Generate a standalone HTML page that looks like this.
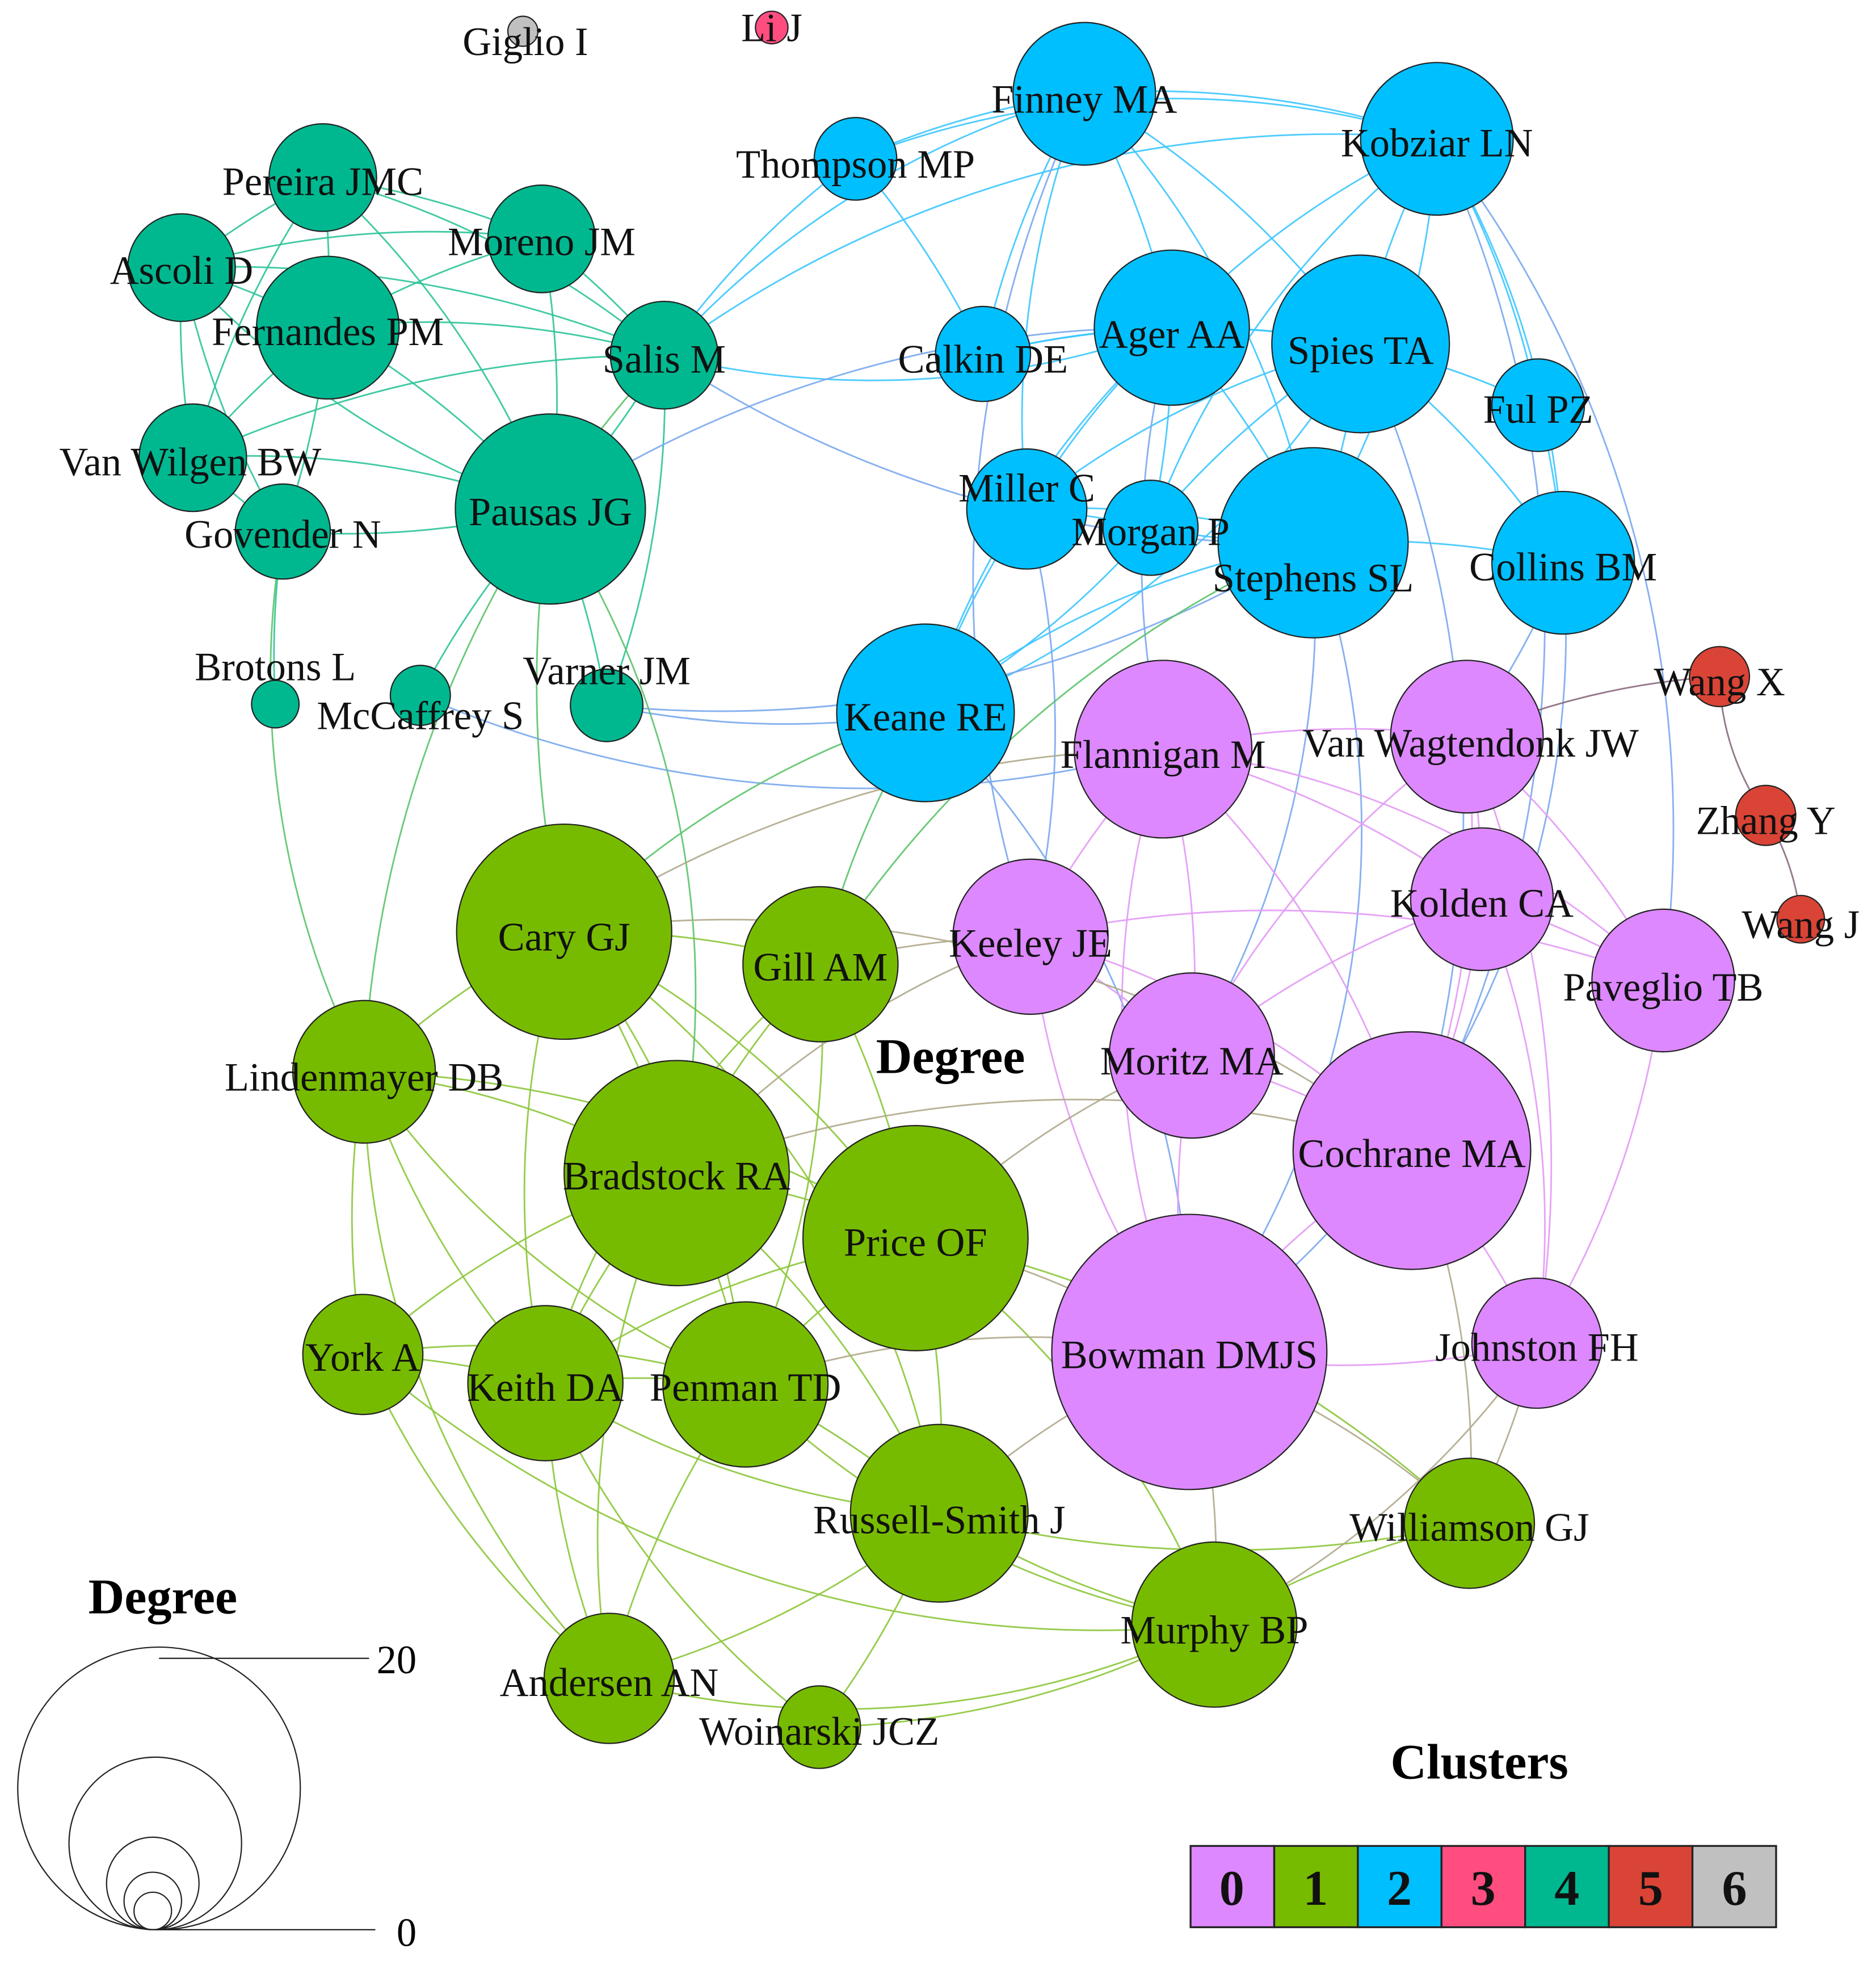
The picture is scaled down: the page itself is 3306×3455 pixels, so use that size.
<!DOCTYPE html>
<html><head><meta charset="utf-8"><style>
html,body{margin:0;padding:0;background:#fff}
svg{display:block}
text{font-family:"Liberation Serif",serif}
</style></head><body>
<svg xmlns="http://www.w3.org/2000/svg" width="3306" height="3455" viewBox="0 0 1500 1568">
<rect width="1500" height="1568" fill="#fff"/>
<g fill="none" stroke-width="1.3" stroke-opacity="0.9">
<g stroke="#2EC49A">
<path d="M258,142 A700,700 0 0 1 433,191"/><path d="M258,142 A700,700 0 0 0 145,214"/><path d="M258,142 A700,700 0 0 1 262,262"/><path d="M258,142 A700,700 0 0 1 531,284"/><path d="M258,142 A700,700 0 0 1 440,407"/><path d="M258,142 A700,700 0 0 0 154,366"/><path d="M145,214 A700,700 0 0 1 262,262"/><path d="M145,214 A700,700 0 0 1 433,191"/><path d="M145,214 A700,700 0 0 0 154,366"/><path d="M145,214 A700,700 0 0 0 226,425"/><path d="M145,214 A700,700 0 0 0 440,407"/><path d="M262,262 A700,700 0 0 1 433,191"/><path d="M262,262 A700,700 0 0 1 531,284"/><path d="M262,262 A700,700 0 0 1 440,407"/><path d="M262,262 A700,700 0 0 0 154,366"/><path d="M262,262 A700,700 0 0 1 226,425"/><path d="M433,191 A700,700 0 0 1 531,284"/><path d="M433,191 A700,700 0 0 1 440,407"/><path d="M154,366 A700,700 0 0 0 226,425"/><path d="M154,366 A700,700 0 0 1 440,407"/><path d="M226,425 A700,700 0 0 0 440,407"/><path d="M440,407 A700,700 0 0 0 531,284"/><path d="M440,407 A700,700 0 0 1 485,564"/><path d="M440,407 A700,700 0 0 0 336,556"/><path d="M485,564 A700,700 0 0 0 531,284"/><path d="M226,425 A700,700 0 0 0 220,563"/><path d="M145,214 A900,900 0 0 1 531,284"/><path d="M154,366 A900,900 0 0 1 531,284"/>
</g>
<g stroke="#3CC6FF">
<path d="M867,75 A700,700 0 0 0 684,127"/><path d="M867,75 A700,700 0 0 1 1149,111"/><path d="M867,75 A700,700 0 0 1 937,262"/><path d="M867,75 A700,700 0 0 1 1088,275"/><path d="M867,75 A700,700 0 0 1 1050,434"/><path d="M867,75 A700,700 0 0 0 786,283"/><path d="M867,75 A700,700 0 0 0 821,407"/><path d="M684,127 A700,700 0 0 1 1149,111"/><path d="M684,127 A700,700 0 0 1 786,283"/><path d="M1149,111 A700,700 0 0 0 937,262"/><path d="M1149,111 A700,700 0 0 0 1088,275"/><path d="M1149,111 A700,700 0 0 1 1050,434"/><path d="M1149,111 A700,700 0 0 1 1230,324"/><path d="M1149,111 A700,700 0 0 1 1250,450"/><path d="M1149,111 A700,700 0 0 0 920,422"/><path d="M786,283 A700,700 0 0 1 937,262"/><path d="M786,283 A700,700 0 0 1 1088,275"/><path d="M937,262 A700,700 0 0 1 1088,275"/><path d="M937,262 A700,700 0 0 1 1050,434"/><path d="M937,262 A700,700 0 0 0 821,407"/><path d="M937,262 A700,700 0 0 1 920,422"/><path d="M937,262 A700,700 0 0 0 740,570"/><path d="M1088,275 A700,700 0 0 1 1050,434"/><path d="M1088,275 A700,700 0 0 1 1230,324"/><path d="M1088,275 A700,700 0 0 1 1250,450"/><path d="M1088,275 A700,700 0 0 0 821,407"/><path d="M1088,275 A700,700 0 0 0 920,422"/><path d="M1050,434 A700,700 0 0 1 1250,450"/><path d="M1050,434 A700,700 0 0 0 821,407"/><path d="M1050,434 A700,700 0 0 1 920,422"/><path d="M1050,434 A700,700 0 0 0 740,570"/><path d="M821,407 A700,700 0 0 0 740,570"/><path d="M920,422 A700,700 0 0 1 740,570"/><path d="M821,407 A700,700 0 0 1 920,422"/><path d="M1250,450 A700,700 0 0 0 1230,324"/><path d="M740,570 A700,700 0 0 0 1088,275"/>
<path d="M531,284 A700,700 0 0 1 867,75"/><path d="M531,284 A900,900 0 0 1 1149,111"/><path d="M531,284 A700,700 0 0 0 937,262"/><path d="M531,284 A700,700 0 0 1 684,127"/>
</g>
<g stroke="#7AA8EE">
<path d="M531,284 A900,900 0 0 0 1050,434"/><path d="M440,407 A900,900 0 0 1 937,262"/><path d="M485,564 A700,700 0 0 0 740,570"/><path d="M485,564 A900,900 0 0 0 1050,434"/><path d="M1050,434 A700,700 0 0 1 953,844"/><path d="M1050,434 A700,700 0 0 1 951,1081"/><path d="M1250,450 A700,700 0 0 1 951,1081"/><path d="M1250,450 A700,700 0 0 1 1173,589"/><path d="M1149,111 A900,900 0 0 1 1330,784"/><path d="M867,75 A900,900 0 0 0 824,749"/><path d="M821,407 A700,700 0 0 1 824,749"/><path d="M1088,275 A900,900 0 0 1 1129,920"/><path d="M1149,111 A900,900 0 0 1 1129,920"/><path d="M336,556 A900,900 0 0 0 930,599"/><path d="M937,262 A700,700 0 0 0 930,599"/><path d="M740,570 A700,700 0 0 1 951,1081"/>
</g>
<g stroke="#E39AF5">
<path d="M930,599 A700,700 0 0 1 1173,589"/><path d="M930,599 A700,700 0 0 1 1185,719"/><path d="M930,599 A700,700 0 0 1 1330,784"/><path d="M930,599 A700,700 0 0 0 824,749"/><path d="M930,599 A700,700 0 0 1 953,844"/><path d="M930,599 A700,700 0 0 1 1129,920"/><path d="M930,599 A700,700 0 0 0 951,1081"/><path d="M1173,589 A700,700 0 0 1 1185,719"/><path d="M1173,589 A700,700 0 0 1 1330,784"/><path d="M1173,589 A700,700 0 0 0 953,844"/><path d="M1173,589 A700,700 0 0 1 1129,920"/><path d="M1185,719 A700,700 0 0 1 1330,784"/><path d="M1185,719 A700,700 0 0 0 953,844"/><path d="M1185,719 A700,700 0 0 1 1129,920"/><path d="M824,749 A700,700 0 0 1 953,844"/><path d="M824,749 A700,700 0 0 0 951,1081"/><path d="M824,749 A900,900 0 0 1 1330,784"/><path d="M953,844 A700,700 0 0 1 1129,920"/><path d="M953,844 A700,700 0 0 0 951,1081"/><path d="M1129,920 A700,700 0 0 0 951,1081"/><path d="M1129,920 A700,700 0 0 1 1229,1074"/><path d="M951,1081 A700,700 0 0 0 1229,1074"/><path d="M1185,719 A700,700 0 0 1 1229,1074"/><path d="M1330,784 A700,700 0 0 1 1229,1074"/><path d="M824,749 A700,700 0 0 1 1129,920"/><path d="M1173,589 A900,900 0 0 1 1229,1074"/>
</g>
<g stroke="#8CC63A">
<path d="M451,745 A700,700 0 0 1 656,771"/><path d="M451,745 A700,700 0 0 0 291,857"/><path d="M451,745 A700,700 0 0 1 541,938"/><path d="M451,745 A700,700 0 0 1 732,990"/><path d="M451,745 A700,700 0 0 0 436,1106"/><path d="M451,745 A700,700 0 0 1 596,1107"/><path d="M451,745 A700,700 0 0 1 751,1210"/><path d="M656,771 A700,700 0 0 0 541,938"/><path d="M656,771 A700,700 0 0 1 732,990"/><path d="M656,771 A700,700 0 0 1 596,1107"/><path d="M656,771 A700,700 0 0 0 436,1106"/><path d="M291,857 A700,700 0 0 1 541,938"/><path d="M291,857 A700,700 0 0 0 290,1083"/><path d="M291,857 A700,700 0 0 0 436,1106"/><path d="M291,857 A700,700 0 0 0 596,1107"/><path d="M291,857 A700,700 0 0 0 487,1342"/><path d="M291,857 A900,900 0 0 1 732,990"/><path d="M541,938 A700,700 0 0 1 732,990"/><path d="M541,938 A700,700 0 0 0 436,1106"/><path d="M541,938 A700,700 0 0 1 596,1107"/><path d="M541,938 A700,700 0 0 0 290,1083"/><path d="M541,938 A700,700 0 0 1 751,1210"/><path d="M541,938 A700,700 0 0 0 487,1342"/><path d="M732,990 A700,700 0 0 0 596,1107"/><path d="M732,990 A700,700 0 0 0 436,1106"/><path d="M732,990 A700,700 0 0 1 751,1210"/><path d="M732,990 A700,700 0 0 1 971,1299"/><path d="M290,1083 A700,700 0 0 1 436,1106"/><path d="M290,1083 A700,700 0 0 1 596,1107"/><path d="M436,1106 A700,700 0 0 1 596,1107"/><path d="M436,1106 A700,700 0 0 0 487,1342"/><path d="M436,1106 A700,700 0 0 0 751,1210"/><path d="M596,1107 A700,700 0 0 1 751,1210"/><path d="M596,1107 A700,700 0 0 0 487,1342"/><path d="M596,1107 A700,700 0 0 0 971,1299"/><path d="M751,1210 A700,700 0 0 0 971,1299"/><path d="M751,1210 A700,700 0 0 1 487,1342"/><path d="M751,1210 A700,700 0 0 1 655,1381"/><path d="M971,1299 A700,700 0 0 1 655,1381"/><path d="M971,1299 A700,700 0 0 1 487,1342"/><path d="M1175,1218 A700,700 0 0 0 971,1299"/><path d="M1175,1218 A900,900 0 0 0 732,990"/><path d="M655,1381 A700,700 0 0 1 436,1106"/><path d="M1175,1218 A900,900 0 0 1 751,1210"/><path d="M290,1083 A900,900 0 0 0 971,1299"/><path d="M290,1083 A700,700 0 0 0 487,1342"/>
</g>
<g stroke="#5CC36A">
<path d="M440,407 A900,900 0 0 0 451,745"/><path d="M226,425 A700,700 0 0 0 291,857"/><path d="M440,407 A700,700 0 0 1 541,938"/><path d="M740,570 A700,700 0 0 0 656,771"/><path d="M740,570 A700,700 0 0 0 451,745"/><path d="M531,284 A900,900 0 0 0 291,857"/><path d="M1050,434 A900,900 0 0 0 656,771"/>
</g>
<g stroke="#B0AA8C">
<path d="M824,749 A700,700 0 0 0 656,771"/><path d="M824,749 A700,700 0 0 0 541,938"/><path d="M953,844 A700,700 0 0 0 732,990"/><path d="M951,1081 A700,700 0 0 0 732,990"/><path d="M951,1081 A700,700 0 0 1 971,1299"/><path d="M951,1081 A700,700 0 0 1 1175,1218"/><path d="M951,1081 A700,700 0 0 0 751,1210"/><path d="M1229,1074 A700,700 0 0 1 1175,1218"/><path d="M1229,1074 A700,700 0 0 1 971,1299"/><path d="M1129,920 A900,900 0 0 0 541,938"/><path d="M930,599 A900,900 0 0 0 451,745"/><path d="M951,1081 A700,700 0 0 0 596,1107"/><path d="M1129,920 A700,700 0 0 1 1175,1218"/><path d="M451,745 A900,900 0 0 1 1129,920"/>
</g>
<g stroke="#8A6A80">
<path d="M1375,541 A200,200 0 0 0 1412,652"/><path d="M1412,652 A200,200 0 0 1 1440,735"/><path d="M1375,541 A600,600 0 0 0 1173,589"/>
</g>
</g>
<g stroke="#222" stroke-width="1">
<circle cx="418" cy="25" r="12" fill="#C0C0C0"/><circle cx="617" cy="22" r="13" fill="#FF4D80"/>
<g fill="#00BFFF">
<circle cx="867" cy="75" r="57"/><circle cx="684" cy="127" r="33"/><circle cx="1149" cy="111" r="61"/><circle cx="786" cy="283" r="38"/><circle cx="937" cy="262" r="62"/><circle cx="1088" cy="275" r="71"/><circle cx="1230" cy="324" r="37"/><circle cx="821" cy="407" r="48"/><circle cx="920" cy="422" r="38"/><circle cx="1050" cy="434" r="76"/><circle cx="1250" cy="450" r="57"/><circle cx="740" cy="570" r="71"/>
</g>
<g fill="#00B890">
<circle cx="258" cy="142" r="43"/><circle cx="433" cy="191" r="43"/><circle cx="145" cy="214" r="43"/><circle cx="262" cy="262" r="57"/><circle cx="531" cy="284" r="43"/><circle cx="154" cy="366" r="43"/><circle cx="226" cy="425" r="38"/><circle cx="440" cy="407" r="76"/><circle cx="220" cy="563" r="19"/><circle cx="336" cy="556" r="24"/><circle cx="485" cy="564" r="29"/>
</g>
<g fill="#DD88FF">
<circle cx="930" cy="599" r="71"/><circle cx="1173" cy="589" r="61"/><circle cx="1185" cy="719" r="57"/><circle cx="1330" cy="784" r="57"/><circle cx="824" cy="749" r="62"/><circle cx="953" cy="844" r="66"/><circle cx="1129" cy="920" r="95"/><circle cx="951" cy="1081" r="110"/><circle cx="1229" cy="1074" r="52"/>
</g>
<g fill="#D94436">
<circle cx="1375" cy="541" r="24"/><circle cx="1412" cy="652" r="24"/><circle cx="1440" cy="735" r="19"/>
</g>
<g fill="#77BB00">
<circle cx="451" cy="745" r="86"/><circle cx="656" cy="771" r="62"/><circle cx="291" cy="857" r="57"/><circle cx="541" cy="938" r="90"/><circle cx="732" cy="990" r="90"/><circle cx="290" cy="1083" r="48"/><circle cx="436" cy="1106" r="62"/><circle cx="596" cy="1107" r="66"/><circle cx="751" cy="1210" r="71"/><circle cx="1175" cy="1218" r="52"/><circle cx="971" cy="1299" r="66"/><circle cx="487" cy="1342" r="52"/><circle cx="655" cy="1381" r="33"/>
</g>
</g>
<g font-size="32" fill="#111" text-anchor="middle">
<text x="420" y="44">Giglio I</text><text x="617" y="33">Li J</text>
<text x="867" y="90">Finney MA</text><text x="684" y="142">Thompson MP</text><text x="1149" y="125">Kobziar LN</text>
<text x="258" y="156">Pereira JMC</text><text x="433" y="204">Moreno JM</text><text x="145" y="227">Ascoli D</text>
<text x="262" y="276">Fernandes PM</text><text x="531" y="298">Salis M</text><text x="786" y="298">Calkin DE</text>
<text x="937" y="278">Ager AA</text><text x="1088" y="291">Spies TA</text><text x="1230" y="338">Ful PZ</text>
<text x="152" y="380">Van Wilgen BW</text><text x="226" y="438">Govender N</text><text x="440" y="420">Pausas JG</text>
<text x="821" y="401">Miller C</text><text x="920" y="436">Morgan P</text><text x="1050" y="473">Stephens SL</text>
<text x="1250" y="464">Collins BM</text><text x="220" y="544">Brotons L</text><text x="336" y="583">McCaffrey S</text>
<text x="485" y="547">Varner JM</text><text x="740" y="584">Keane RE</text><text x="930" y="614">Flannigan M</text>
<text x="1176" y="605">Van Wagtendonk JW</text><text x="1375" y="556">Wang X</text><text x="1412" y="667">Zhang Y</text>
<text x="1440" y="750">Wang J</text><text x="1185" y="733">Kolden CA</text><text x="1330" y="800">Paveglio TB</text>
<text x="824" y="765">Keeley JE</text><text x="451" y="760">Cary GJ</text><text x="656" y="784">Gill AM</text>
<text x="953" y="859">Moritz MA</text><text x="291" y="872">Lindenmayer DB</text><text x="1129" y="933">Cochrane MA</text>
<text x="541" y="951">Bradstock RA</text><text x="732" y="1004">Price OF</text><text x="951" y="1094">Bowman DMJS</text>
<text x="1229" y="1088">Johnston FH</text><text x="290" y="1096">York A</text><text x="436" y="1120">Keith DA</text>
<text x="596" y="1120">Penman TD</text><text x="751" y="1226">Russell-Smith J</text><text x="1175" y="1232">Williamson GJ</text>
<text x="971" y="1314">Murphy BP</text><text x="487" y="1356">Andersen AN</text><text x="655" y="1395">Woinarski JCZ</text>
</g>
<text x="760" y="858" font-size="40" font-weight="bold" text-anchor="middle">Degree</text>
<text x="130" y="1290" font-size="40" font-weight="bold" text-anchor="middle">Degree</text>
<g fill="none" stroke="#222" stroke-width="1">
<circle cx="127" cy="1430" r="113"/><circle cx="124" cy="1474" r="69"/><circle cx="122" cy="1506" r="37"/><circle cx="122" cy="1520" r="23"/><circle cx="122" cy="1528" r="15"/>
<line x1="127" y1="1326" x2="295" y2="1326"/><line x1="122" y1="1543" x2="300" y2="1543"/>
</g>
<text x="317" y="1338" font-size="32" text-anchor="middle">20</text>
<text x="325" y="1556" font-size="32" text-anchor="middle">0</text>
<text x="1183" y="1422" font-size="40" font-weight="bold" text-anchor="middle">Clusters</text>
<g stroke="#222" stroke-width="1.5">
<rect x="952" y="1476" width="66.9" height="65" fill="#DD88FF"/><rect x="1018.9" y="1476" width="66.9" height="65" fill="#77BB00"/><rect x="1085.8" y="1476" width="66.9" height="65" fill="#00BFFF"/><rect x="1152.7" y="1476" width="66.9" height="65" fill="#FF4D80"/><rect x="1219.6" y="1476" width="66.9" height="65" fill="#00B890"/><rect x="1286.5" y="1476" width="66.9" height="65" fill="#D94436"/><rect x="1353.4" y="1476" width="66.9" height="65" fill="#C0C0C0"/>
</g>
<g font-size="40" font-weight="bold" fill="#111" text-anchor="middle">
<text x="985" y="1523">0</text><text x="1052" y="1523">1</text><text x="1119" y="1523">2</text><text x="1186" y="1523">3</text><text x="1253" y="1523">4</text><text x="1320" y="1523">5</text><text x="1387" y="1523">6</text>
</g>
</svg>
</body></html>
